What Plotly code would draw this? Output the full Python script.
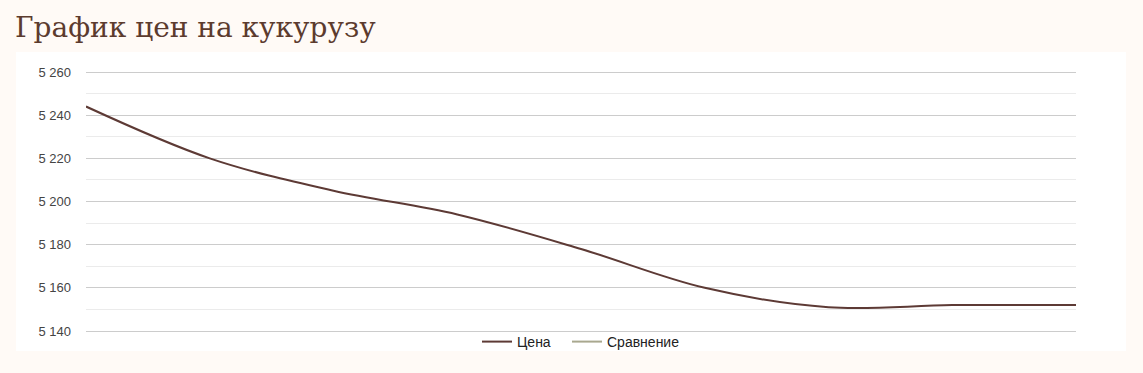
import plotly.graph_objects as go

# Data
points = [1, 2, 3, 4, 5, 6, 7, 8, 9]
price = [5244, 5220, 5205, 5194, 5178, 5160, 5151, 5152, 5152]
comparison = [None] * 9
title_text = "График цен на кукурузу"
series_names = ["Цена", "Сравнение"]
y_ticks = [5140, 5160, 5180, 5200, 5220, 5240, 5260]
y_minor = [5150, 5170, 5190, 5210, 5230, 5250]

W, H = 1143, 373
PAD = 2  # px of padding so plotly keeps edge gridlines
L, R, T, B = 86, 1143 - 1076, 72 - PAD, 373 - 331 - PAD
pw, ph = W - L - R, H - T - B
eps = PAD * 120 / 259
bottom_px = H - B


def px_x(x):
    return (x - L) / pw


def px_y(y):
    return (bottom_px - y) / ph


fig = go.Figure()
fig.add_trace(go.Scatter(
    x=points, y=price, name=series_names[0], mode="lines",
    line=dict(color="#5d3a35", width=2, shape="spline", smoothing=1.0),
    legend="legend",
))
fig.add_trace(go.Scatter(
    x=points, y=comparison, name=series_names[1], mode="lines",
    line=dict(color="#a9a88f", width=2),
    legend="legend2",
))

# white panel behind chart
fig.add_shape(
    type="rect", xref="paper", yref="paper", layer="below",
    x0=px_x(16), x1=px_x(1126), y0=px_y(351), y1=px_y(52),
    fillcolor="white", line=dict(width=0),
)

legend_font = dict(family="Liberation Sans, Arial", size=14, color="#222222")
legend_common = dict(
    orientation="h", xanchor="left", yanchor="middle", y=px_y(342),
    font=legend_font, bgcolor="rgba(0,0,0,0)", itemwidth=30,
)

fig.update_layout(
    width=W, height=H,
    margin=dict(l=L, r=R, t=T, b=B, pad=0),
    paper_bgcolor="#fffaf6",
    plot_bgcolor="white",
    separators=". ",
    showlegend=True,
    title=dict(
        text=title_text, x=15 / W, xanchor="left", y=1 - 27 / H, yanchor="middle",
        font=dict(family="DejaVu Serif", size=28, color="#5c3b2e"),
    ),
    legend=dict(x=px_x(477), **legend_common),
    legend2=dict(x=px_x(567), **legend_common),
    xaxis=dict(
        visible=False, range=[points[0], points[-1]], showgrid=False, zeroline=False,
    ),
    yaxis=dict(
        range=[y_ticks[0] - eps, y_ticks[-1] + eps], tickvals=y_ticks, tickformat=",d",
        showgrid=True, gridcolor="#cccccc", gridwidth=1, zeroline=False,
        showline=False, ticks="", ticklabelstandoff=14,
        tickfont=dict(family="Liberation Sans, Arial", size=13, color="#444444"),
        minor=dict(tickvals=y_minor, showgrid=True,
                   gridcolor="#ebebeb", gridwidth=1, ticks=""),
    ),
)

fig.write_html("out.html")
